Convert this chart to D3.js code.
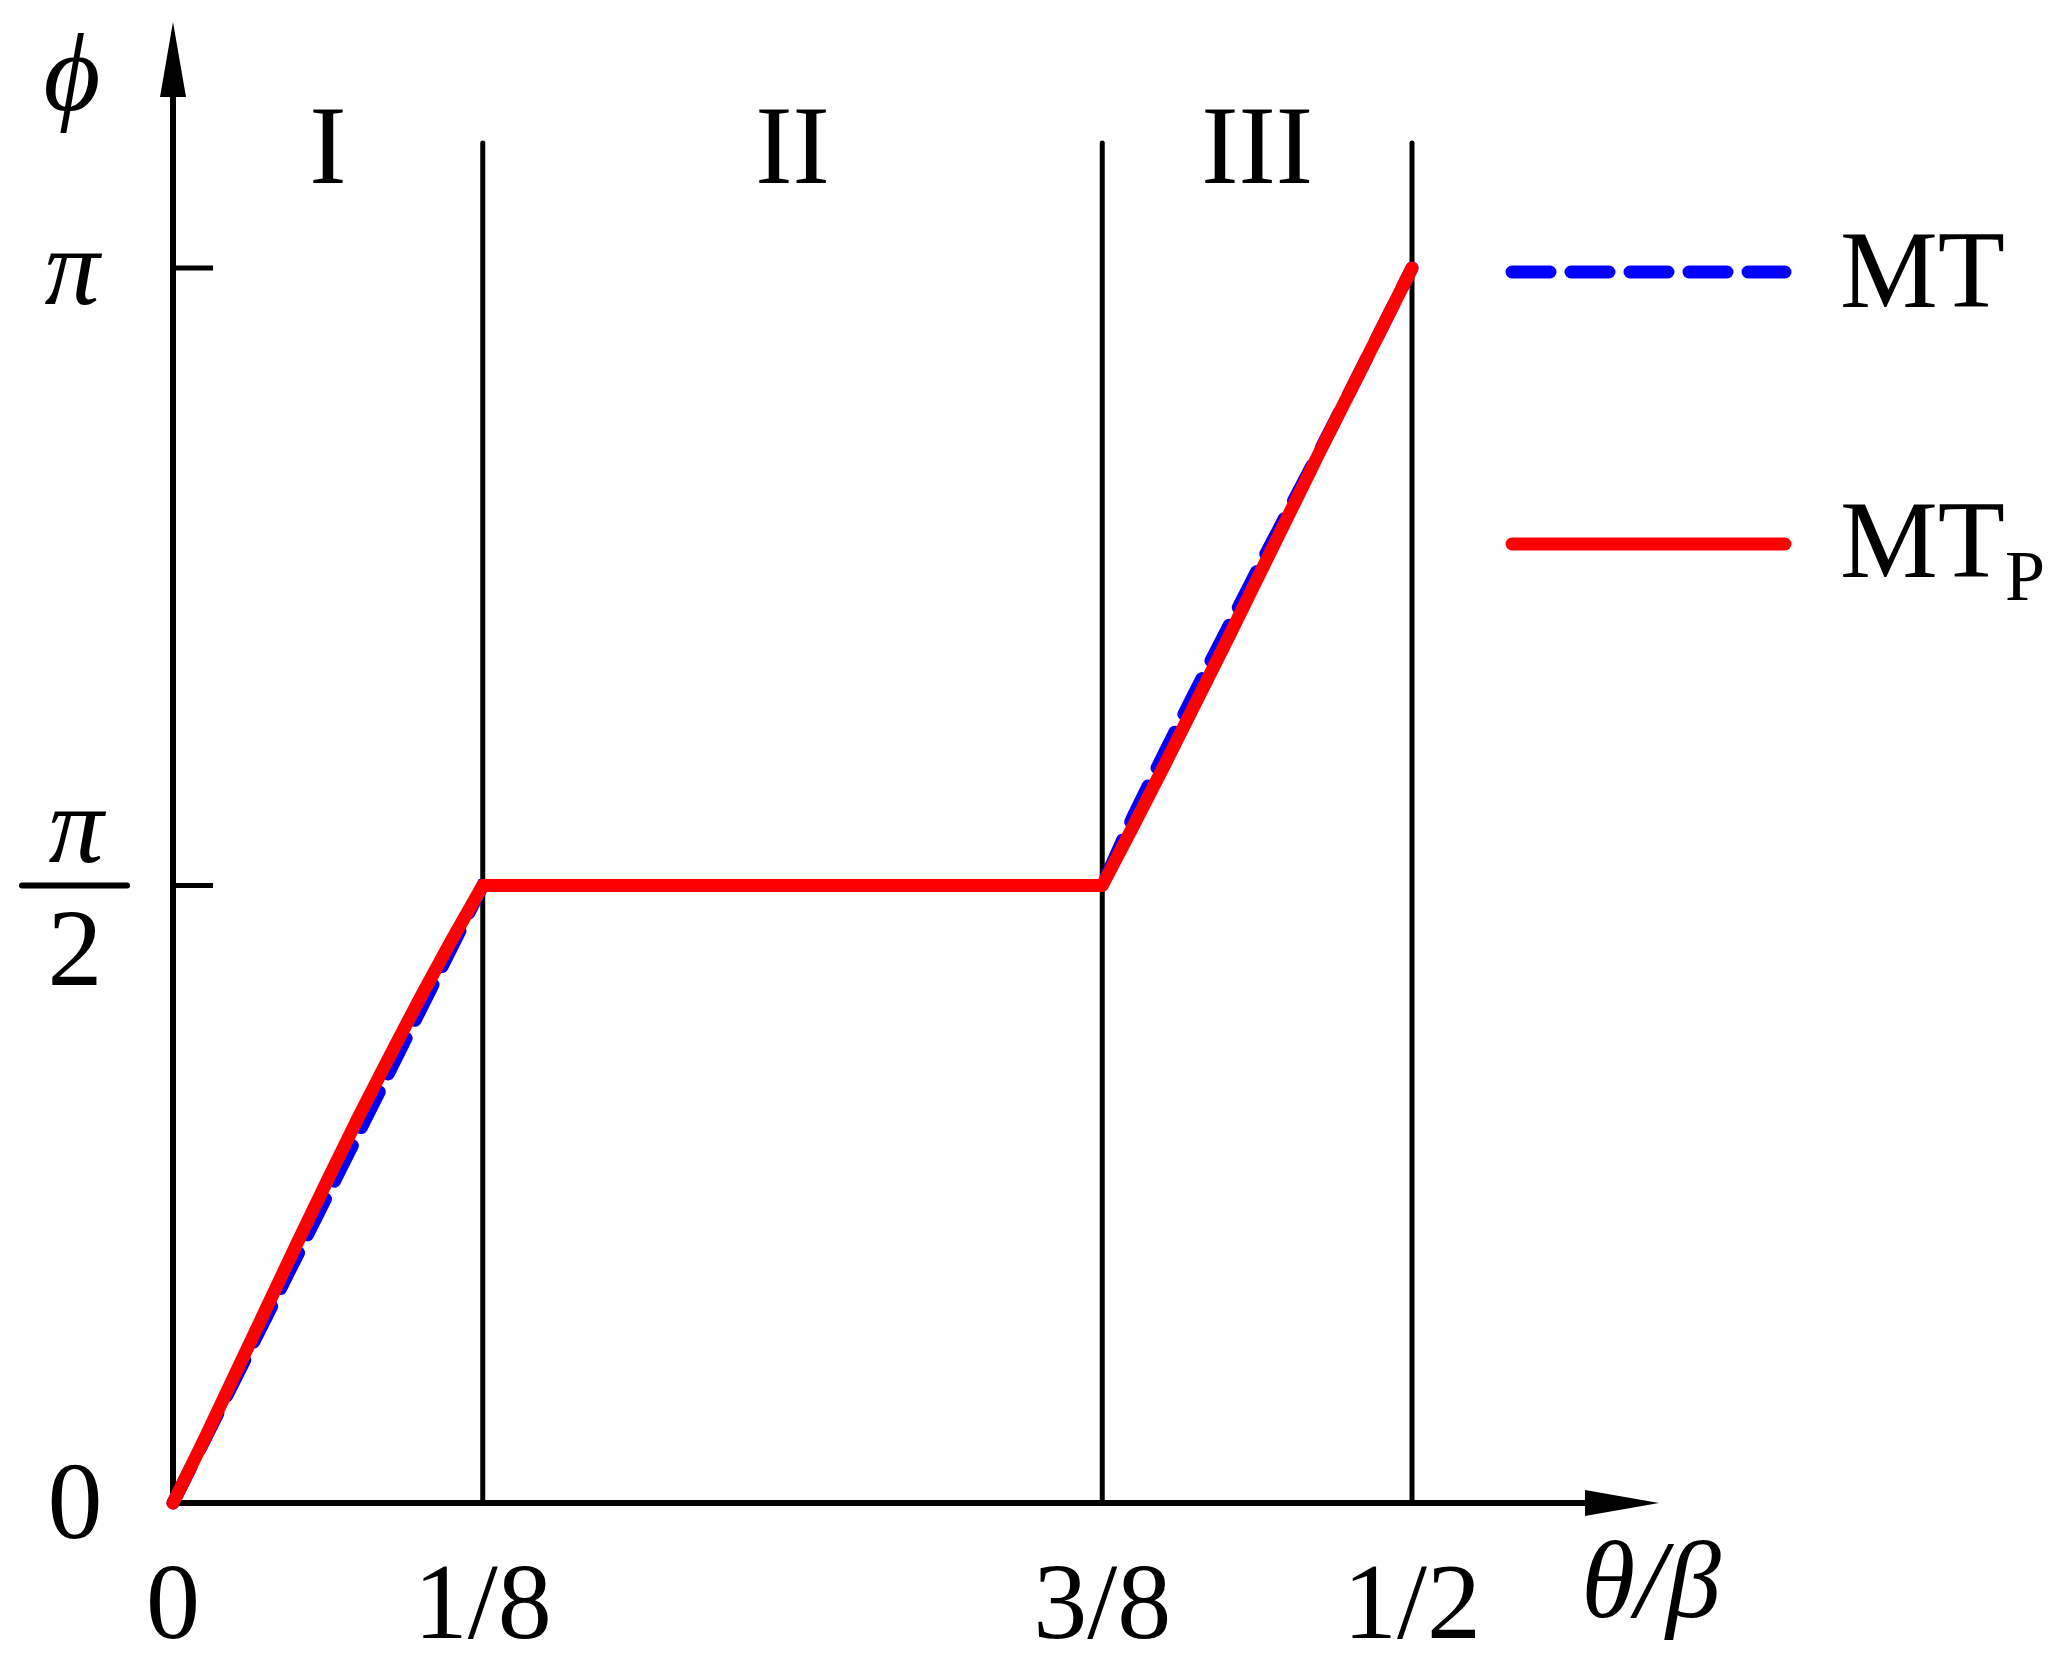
<!DOCTYPE html>
<html>
<head>
<meta charset="utf-8">
<script src="https://cdn.jsdelivr.net/npm/d3@7"></script>
<style>
  body { margin: 0; background: #fff; }
  text { font-family: "Liberation Serif", "Times New Roman", serif; fill: #000; }
  .it { font-style: italic; }
</style>
</head>
<body>
<div id="chart"></div>
<script>
// theta/beta positions and phi values (in units of pi)
var xTicks = [0, 1/8, 3/8, 1/2];
var xTickLabels = ["0", "1/8", "3/8", "1/2"];
var regionBounds = [1/8, 3/8, 1/2];
var regionNames = ["I", "II", "III"];
var regionCenters = [1/16, 1/4, 7/16];

var mtTheta  = [0, 0.0125, 0.025, 0.0375, 0.05, 0.0625, 0.075, 0.0875, 0.1, 0.1125, 0.125,
                0.375, 0.3875, 0.4, 0.4125, 0.425, 0.4375, 0.45, 0.4625, 0.475, 0.4875, 0.5];
var mtPhi    = [0, 0.05, 0.1, 0.15, 0.2, 0.25, 0.3, 0.35, 0.4, 0.45, 0.5,
                0.5, 0.556, 0.607, 0.657, 0.706, 0.755, 0.803, 0.851, 0.9, 0.95, 1];
var mtpTheta = mtTheta;
var mtpPhi   = [0, 0.051, 0.104, 0.157, 0.21, 0.262, 0.313, 0.362, 0.41, 0.456, 0.5,
                0.5, 0.548, 0.597, 0.647, 0.697, 0.748, 0.799, 0.85, 0.9, 0.95, 1];

var W = 2067, H = 1673;
var svg = d3.select("#chart").append("svg")
    .attr("width", W)
    .attr("height", H);

var x = d3.scaleLinear().domain([0, 0.5]).range([173, 1412]);
var y = d3.scaleLinear().domain([0, Math.PI]).range([1503, 268]);

// region dividers
svg.selectAll(".divider")
    .data(regionBounds)
    .enter()
    .append("line")
    .attr("x1", d => x(d)).attr("x2", d => x(d))
    .attr("y1", 143).attr("y2", y(0))
    .attr("stroke", "#000").attr("stroke-width", 5)
    .attr("stroke-linecap", "round");

// axes with arrows
svg.append("line")
    .attr("x1", x(0)).attr("y1", y(0))
    .attr("x2", x(0)).attr("y2", 90)
    .attr("stroke", "#000").attr("stroke-width", 6);
svg.append("path")
    .attr("d", "M" + x(0) + ",22 L" + (x(0) - 13) + ",97 L" + (x(0) + 13) + ",97 Z")
    .attr("fill", "#000");
svg.append("line")
    .attr("x1", x(0) - 3).attr("y1", y(0))
    .attr("x2", 1595).attr("y2", y(0))
    .attr("stroke", "#000").attr("stroke-width", 6);
svg.append("path")
    .attr("d", "M1659," + y(0) + " L1585," + (y(0) - 13) + " L1585," + (y(0) + 13) + " Z")
    .attr("fill", "#000");

// y ticks at pi/2 and pi
svg.selectAll(".ytick")
    .data([Math.PI / 2, Math.PI])
    .enter()
    .append("line")
    .attr("x1", x(0)).attr("x2", x(0) + 40)
    .attr("y1", d => y(d)).attr("y2", d => y(d))
    .attr("stroke", "#000").attr("stroke-width", 5);

// x tick labels
svg.selectAll(".xlabel")
    .data(xTicks)
    .enter()
    .append("text")
    .attr("x", d => x(d))
    .attr("y", 1638)
    .attr("text-anchor", "middle")
    .attr("font-size", 108)
    .text((d, i) => xTickLabels[i]);

// y tick labels
svg.append("text").attr("x", 75).attr("y", 1538)
    .attr("text-anchor", "middle").attr("font-size", 110).text("0");
svg.append("text").attr("class", "it").attr("x", 72).attr("y", y(Math.PI) + 36)
    .attr("text-anchor", "middle").attr("font-size", 110).text("\u03C0");
svg.append("text").attr("class", "it").attr("x", 76).attr("y", y(Math.PI / 2) - 24)
    .attr("text-anchor", "middle").attr("font-size", 110).text("\u03C0");
svg.append("line")
    .attr("x1", 22).attr("x2", 127)
    .attr("y1", y(Math.PI / 2)).attr("y2", y(Math.PI / 2))
    .attr("stroke", "#000").attr("stroke-width", 6).attr("stroke-linecap", "round");
svg.append("text").attr("x", 75).attr("y", y(Math.PI / 2) + 99)
    .attr("text-anchor", "middle").attr("font-size", 110).text("2");

// axis titles
svg.append("text").attr("class", "it").attr("x", 72).attr("y", 110)
    .attr("text-anchor", "middle").attr("font-size", 110).text("\u03D5");
var xt = svg.append("text").attr("x", 1651).attr("y", 1617)
    .attr("text-anchor", "middle").attr("font-size", 110);
xt.append("tspan").attr("class", "it").text("\u03B8");
xt.append("tspan").attr("class", "it").text("/");
xt.append("tspan").attr("class", "it").text("\u03B2");

// region names
svg.selectAll(".region")
    .data(regionNames)
    .enter()
    .append("text")
    .attr("x", (d, i) => x(regionCenters[i]))
    .attr("y", 183)
    .attr("text-anchor", "middle")
    .attr("font-size", 112)
    .text(d => d);

// curves
var line = d3.line()
    .x(d => x(d[0]))
    .y(d => y(d[1] * Math.PI));

var mtData = mtTheta.map((t, i) => [t, mtPhi[i]]);
var mtpData = mtpTheta.map((t, i) => [t, mtpPhi[i]]);

svg.append("path")
    .datum(mtData)
    .attr("d", line)
    .attr("fill", "none")
    .attr("stroke", "#0000ff")
    .attr("stroke-width", 13)
    .attr("stroke-linecap", "round")
    .attr("stroke-dasharray", "40 20");

svg.append("path")
    .datum(mtpData)
    .attr("d", line)
    .attr("fill", "none")
    .attr("stroke", "#ff0000")
    .attr("stroke-width", 13)
    .attr("stroke-linecap", "round")
    .attr("stroke-linejoin", "round");

// legend
svg.append("line")
    .attr("x1", 1512).attr("x2", 1785)
    .attr("y1", 272).attr("y2", 272)
    .attr("stroke", "#0000ff").attr("stroke-width", 13)
    .attr("stroke-linecap", "round").attr("stroke-dasharray", "38 21");
svg.append("text").attr("x", 1840).attr("y", 307)
    .attr("font-size", 110).text("MT");

svg.append("line")
    .attr("x1", 1512).attr("x2", 1785)
    .attr("y1", 544).attr("y2", 544)
    .attr("stroke", "#ff0000").attr("stroke-width", 13)
    .attr("stroke-linecap", "round");
var lp = svg.append("text").attr("x", 1840).attr("y", 577).attr("font-size", 110);
lp.append("tspan").text("MT");
lp.append("tspan").attr("font-size", 72).attr("dy", 23).text("P");
</script>
</body>
</html>
